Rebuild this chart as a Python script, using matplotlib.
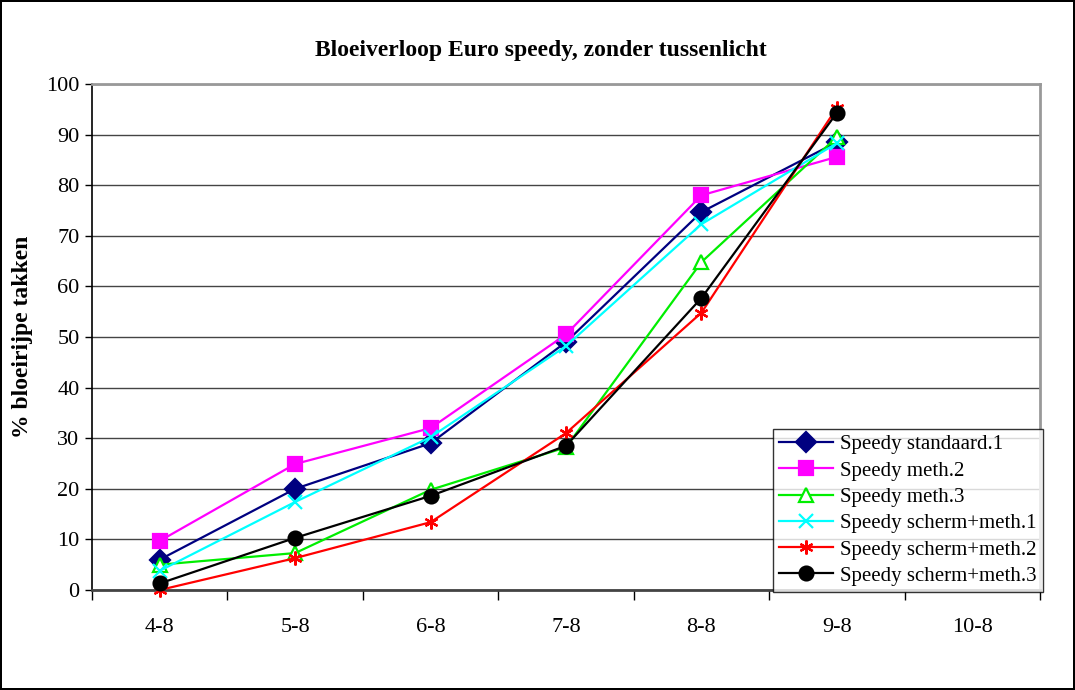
import numpy as np
import matplotlib.pyplot as plt

plt.rcParams['font.family'] = ['Liberation Serif', 'DejaVu Serif']

# data
dates = ['4-8', '5-8', '6-8', '7-8', '8-8', '9-8', '10-8']
standaard1 = [6, 20, 29, 49, 74.7, 88.5]
meth2 = [9.7, 24.9, 32, 50.5, 78, 85.6]
meth3 = [5, 7.3, 19.8, 28.2, 64.8, 89.5]
scherm_meth1 = [3.8, 17.4, 30.2, 48.2, 72.3, 88.3]
scherm_meth2 = [0, 6.3, 13.4, 31, 54.8, 95.3]
scherm_meth3 = [1.3, 10.3, 18.6, 28.5, 57.7, 94.3]

series = [
    ('Speedy standaard.1', standaard1, '#000080', 'D', '#000080'),
    ('Speedy meth.2', meth2, '#ff00ff', 's', '#ff00ff'),
    ('Speedy meth.3', meth3, '#00ee00', '^', 'white'),
    ('Speedy scherm+meth.1', scherm_meth1, '#00ffff', 'x', '#00ffff'),
    ('Speedy scherm+meth.2', scherm_meth2, '#ff0000', (6, 2, 0), '#ff0000'),
    ('Speedy scherm+meth.3', scherm_meth3, '#000000', 'o', '#000000'),
]

fig = plt.figure(figsize=(10.75, 6.9), dpi=100)
fig.patch.set_edgecolor('black')
fig.patch.set_linewidth(1.5)
ax = fig.add_axes([92 / 1075, 1 - 590 / 690, 948 / 1075, 506 / 690])

x = np.arange(len(dates))
for name, vals, col, mk, fc in series:
    ax.plot(x[:len(vals)], vals, color=col, lw=1.6, marker=mk, ms=10,
            markerfacecolor=fc, markeredgecolor=col, mew=1.6, label=name,
            clip_on=False, zorder=3)

ax.set_xlim(-0.5, len(dates) - 0.5)
ax.set_ylim(0, 100)
ax.set_yticks(np.arange(0, 101, 10))
ax.tick_params(axis='y', labelsize=16, length=5, width=1, pad=4)
ax.set_xticks(np.arange(-0.5, len(dates), 1))
ax.set_xticklabels([])
ax.set_xticks(x, minor=True)
ax.set_xticklabels(dates, minor=True, fontsize=16)
ax.tick_params(axis='x', which='major', length=7, width=1)
ax.tick_params(axis='x', which='minor', length=0, pad=20)

ax.grid(axis='y', color='#444444', lw=1)
ax.set_axisbelow(True)
for s in ['top', 'right']:
    ax.spines[s].set_color('#999999')
    ax.spines[s].set_linewidth(2)
ax.spines['left'].set_linewidth(1.2)
ax.spines['bottom'].set_linewidth(2)
ax.spines['bottom'].set_color('#444444')

ax.set_title('Bloeiverloop Euro speedy, zonder tussenlicht', fontsize=17,
             fontweight='bold', pad=20, x=0.474)
ax.set_ylabel('% bloeirijpe takken', fontsize=17, fontweight='bold', labelpad=4)
ax.yaxis.set_label_coords(-0.062, 0.5)

leg = fig.legend(loc='lower left', bbox_to_anchor=(773 / 1075, 1 - 592 / 690),
                 fontsize=15, frameon=True, fancybox=False, edgecolor='black',
                 handlelength=2.6, handletextpad=0.3, labelspacing=0.32,
                 borderpad=0.3, borderaxespad=0)
leg.get_frame().set_linewidth(1)

fig.savefig('out.png', dpi=100)
